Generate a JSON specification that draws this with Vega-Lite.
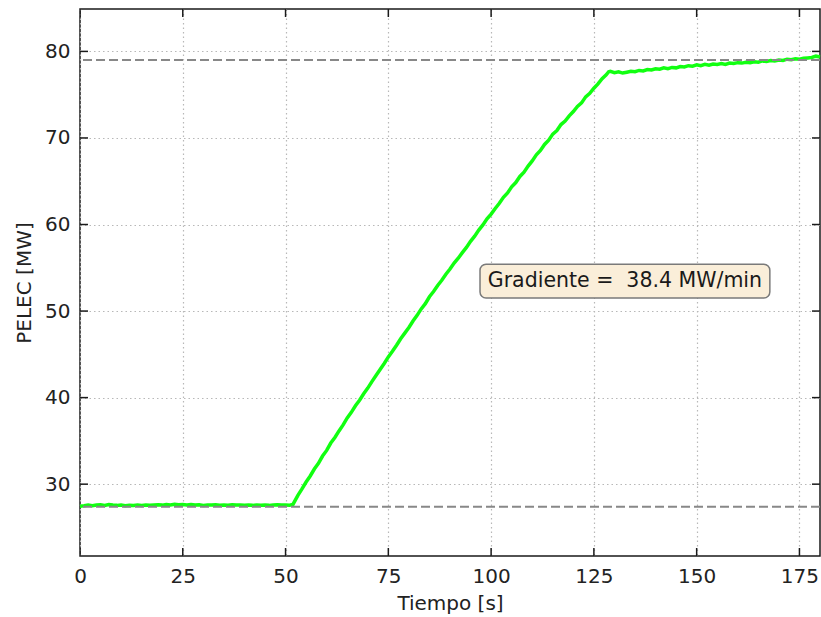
{
  "$schema": "https://vega.github.io/schema/vega-lite/v6.json",
  "width": 740,
  "height": 547,
  "autosize": {"type": "none"},
  "padding": {"left": 80, "top": 9, "right": 1, "bottom": 61},
  "background": "white",
  "config": {
    "font": "DejaVu Sans",
    "view": {"stroke": "#1a1a1a", "strokeWidth": 1.5},
    "axis": {
      "domain": false,
      "ticks": false,
      "labelFlush": false,
      "labelOverlap": false,
      "labelFont": "DejaVu Sans",
      "labelFontSize": 20,
      "labelColor": "#222",
      "titleFont": "DejaVu Sans",
      "titleFontSize": 20,
      "titleFontWeight": "normal",
      "titleColor": "#222",
      "gridColor": "#b8b8b8",
      "gridDash": [1.5, 3],
      "gridWidth": 1.2
    }
  },
  "datasets": {
    "pelec": [
      {"t": 0, "p": 27.45}, {"t": 1, "p": 27.5}, {"t": 2, "p": 27.58}, {"t": 3, "p": 27.52}, {"t": 4, "p": 27.6},
      {"t": 5, "p": 27.62}, {"t": 6, "p": 27.55}, {"t": 7, "p": 27.64}, {"t": 8, "p": 27.58}, {"t": 9, "p": 27.55},
      {"t": 10, "p": 27.6}, {"t": 11, "p": 27.52}, {"t": 12, "p": 27.57}, {"t": 13, "p": 27.54}, {"t": 14, "p": 27.6},
      {"t": 15, "p": 27.54}, {"t": 16, "p": 27.58}, {"t": 17, "p": 27.56}, {"t": 18, "p": 27.6}, {"t": 19, "p": 27.62},
      {"t": 20, "p": 27.58}, {"t": 21, "p": 27.65}, {"t": 22, "p": 27.6}, {"t": 23, "p": 27.68}, {"t": 24, "p": 27.62},
      {"t": 25, "p": 27.66}, {"t": 26, "p": 27.6}, {"t": 27, "p": 27.64}, {"t": 28, "p": 27.58}, {"t": 29, "p": 27.62},
      {"t": 30, "p": 27.55}, {"t": 31, "p": 27.6}, {"t": 32, "p": 27.58}, {"t": 33, "p": 27.63}, {"t": 34, "p": 27.57},
      {"t": 35, "p": 27.6}, {"t": 36, "p": 27.56}, {"t": 37, "p": 27.62}, {"t": 38, "p": 27.58}, {"t": 39, "p": 27.6},
      {"t": 40, "p": 27.56}, {"t": 41, "p": 27.59}, {"t": 42, "p": 27.55}, {"t": 43, "p": 27.6}, {"t": 44, "p": 27.57},
      {"t": 45, "p": 27.58}, {"t": 46, "p": 27.55}, {"t": 47, "p": 27.6}, {"t": 48, "p": 27.63}, {"t": 49, "p": 27.58},
      {"t": 50, "p": 27.6}, {"t": 51, "p": 27.56}, {"t": 51.8, "p": 27.66},
      {"t": 53, "p": 28.7}, {"t": 54, "p": 29.45}, {"t": 55, "p": 30.25}, {"t": 56, "p": 30.95}, {"t": 57, "p": 31.75},
      {"t": 58, "p": 32.4}, {"t": 59, "p": 33.25}, {"t": 60, "p": 33.9}, {"t": 61, "p": 34.75}, {"t": 62, "p": 35.4},
      {"t": 63, "p": 36.15}, {"t": 64, "p": 36.85}, {"t": 65, "p": 37.65}, {"t": 66, "p": 38.3}, {"t": 67, "p": 39.05},
      {"t": 68, "p": 39.7}, {"t": 69, "p": 40.45}, {"t": 70, "p": 41.1}, {"t": 71, "p": 41.85}, {"t": 72, "p": 42.55},
      {"t": 73, "p": 43.25}, {"t": 74, "p": 43.95}, {"t": 75, "p": 44.7}, {"t": 76, "p": 45.35}, {"t": 77, "p": 46.05},
      {"t": 78, "p": 46.8}, {"t": 79, "p": 47.45}, {"t": 80, "p": 48.1}, {"t": 81, "p": 48.85}, {"t": 82, "p": 49.5},
      {"t": 83, "p": 50.25}, {"t": 84, "p": 50.85}, {"t": 85, "p": 51.65}, {"t": 86, "p": 52.25}, {"t": 87, "p": 52.95},
      {"t": 88, "p": 53.55}, {"t": 89, "p": 54.25}, {"t": 90, "p": 54.85}, {"t": 91, "p": 55.55}, {"t": 92, "p": 56.1},
      {"t": 93, "p": 56.75}, {"t": 94, "p": 57.35}, {"t": 95, "p": 58.05}, {"t": 96, "p": 58.65}, {"t": 97, "p": 59.35},
      {"t": 98, "p": 59.95}, {"t": 99, "p": 60.65}, {"t": 100, "p": 61.2}, {"t": 101, "p": 61.85}, {"t": 102, "p": 62.45},
      {"t": 103, "p": 63.15}, {"t": 104, "p": 63.65}, {"t": 105, "p": 64.35}, {"t": 106, "p": 64.85}, {"t": 107, "p": 65.55},
      {"t": 108, "p": 66.05}, {"t": 109, "p": 66.75}, {"t": 110, "p": 67.35}, {"t": 111, "p": 68.05}, {"t": 112, "p": 68.55},
      {"t": 113, "p": 69.25}, {"t": 114, "p": 69.75}, {"t": 115, "p": 70.45}, {"t": 116, "p": 70.85}, {"t": 117, "p": 71.55},
      {"t": 118, "p": 71.95}, {"t": 119, "p": 72.55}, {"t": 120, "p": 73.05}, {"t": 121, "p": 73.65}, {"t": 122, "p": 74.05},
      {"t": 123, "p": 74.75}, {"t": 124, "p": 75.15}, {"t": 125, "p": 75.75}, {"t": 126, "p": 76.25}, {"t": 127, "p": 76.85},
      {"t": 128, "p": 77.3}, {"t": 128.6, "p": 77.65},
      {"t": 129, "p": 77.7}, {"t": 130, "p": 77.55}, {"t": 131, "p": 77.65}, {"t": 132, "p": 77.5}, {"t": 133, "p": 77.6},
      {"t": 134, "p": 77.7}, {"t": 135, "p": 77.65}, {"t": 136, "p": 77.8}, {"t": 137, "p": 77.75}, {"t": 138, "p": 77.9},
      {"t": 139, "p": 77.85}, {"t": 140, "p": 78.0}, {"t": 141, "p": 77.95}, {"t": 142, "p": 78.1}, {"t": 143, "p": 78.0},
      {"t": 144, "p": 78.15}, {"t": 145, "p": 78.1}, {"t": 146, "p": 78.25}, {"t": 147, "p": 78.2}, {"t": 148, "p": 78.35},
      {"t": 149, "p": 78.3}, {"t": 150, "p": 78.45}, {"t": 151, "p": 78.35}, {"t": 152, "p": 78.5}, {"t": 153, "p": 78.4},
      {"t": 154, "p": 78.55}, {"t": 155, "p": 78.5}, {"t": 156, "p": 78.6}, {"t": 157, "p": 78.5}, {"t": 158, "p": 78.65},
      {"t": 159, "p": 78.6}, {"t": 160, "p": 78.7}, {"t": 161, "p": 78.65}, {"t": 162, "p": 78.75}, {"t": 163, "p": 78.7},
      {"t": 164, "p": 78.8}, {"t": 165, "p": 78.75}, {"t": 166, "p": 78.9}, {"t": 167, "p": 78.85}, {"t": 168, "p": 78.95},
      {"t": 169, "p": 78.9}, {"t": 170, "p": 79.0}, {"t": 171, "p": 78.95}, {"t": 172, "p": 79.1}, {"t": 173, "p": 79.05},
      {"t": 174, "p": 79.15}, {"t": 175, "p": 79.1}, {"t": 176, "p": 79.2}, {"t": 177, "p": 79.25}, {"t": 178, "p": 79.3},
      {"t": 179, "p": 79.45}, {"t": 180, "p": 79.35}
    ],
    "refs": [{"level": 27.4}, {"level": 79.0}],
    "xticks": [{"v": 0}, {"v": 25}, {"v": 50}, {"v": 75}, {"v": 100}, {"v": 125}, {"v": 150}, {"v": 175}],
    "yticks": [{"v": 30}, {"v": 40}, {"v": 50}, {"v": 60}, {"v": 70}, {"v": 80}],
    "box": [{"x1": 97.3, "x2": 167.8, "y1": 51.5, "y2": 55.4, "xc": 132.55, "yc": 53.45, "label": "Gradiente = \u00a038.4 MW/min"}]
  },
  "layer": [
    {
      "data": {"name": "pelec"},
      "mark": {"type": "line", "color": "#11ff11", "strokeWidth": 3.5},
      "encoding": {
        "x": {
          "field": "t", "type": "quantitative",
          "scale": {"domain": [0, 180], "nice": false, "zero": false},
          "axis": {"orient": "bottom", "values": [0, 25, 50, 75, 100, 125, 150, 175], "title": "Tiempo [s]", "labelPadding": 10, "titlePadding": 7, "grid": true}
        },
        "y": {
          "field": "p", "type": "quantitative",
          "scale": {"domain": [21.7, 84.9], "nice": false, "zero": false},
          "axis": {"orient": "left", "values": [30, 40, 50, 60, 70, 80], "title": "PELEC [MW]", "labelPadding": 10, "titlePadding": 10, "grid": true}
        }
      }
    },
    {
      "data": {"name": "refs"},
      "mark": {"type": "rule", "color": "#888888", "strokeWidth": 2, "strokeDash": [9, 4]},
      "encoding": {
        "y": {"field": "level", "type": "quantitative"}
      }
    },
    {
      "data": {"name": "xticks"},
      "mark": {"type": "tick", "orient": "vertical", "size": 16, "thickness": 1.5, "color": "#1a1a1a", "opacity": 1, "clip": true},
      "encoding": {
        "x": {"field": "v", "type": "quantitative"},
        "y": {"datum": 21.7, "type": "quantitative"}
      }
    },
    {
      "data": {"name": "xticks"},
      "mark": {"type": "tick", "orient": "vertical", "size": 16, "thickness": 1.5, "color": "#1a1a1a", "opacity": 1, "clip": true},
      "encoding": {
        "x": {"field": "v", "type": "quantitative"},
        "y": {"datum": 84.9, "type": "quantitative"}
      }
    },
    {
      "data": {"name": "yticks"},
      "mark": {"type": "tick", "orient": "horizontal", "size": 16, "thickness": 1.5, "color": "#1a1a1a", "opacity": 1, "clip": true},
      "encoding": {
        "y": {"field": "v", "type": "quantitative"},
        "x": {"datum": 0, "type": "quantitative"}
      }
    },
    {
      "data": {"name": "yticks"},
      "mark": {"type": "tick", "orient": "horizontal", "size": 16, "thickness": 1.5, "color": "#1a1a1a", "opacity": 1, "clip": true},
      "encoding": {
        "y": {"field": "v", "type": "quantitative"},
        "x": {"datum": 180, "type": "quantitative"}
      }
    },
    {
      "data": {"name": "box"},
      "mark": {"type": "rect", "fill": "#faeed9", "stroke": "#7a7a7a", "strokeWidth": 1.5, "cornerRadius": 6},
      "encoding": {
        "x": {"field": "x1", "type": "quantitative"},
        "x2": {"field": "x2"},
        "y": {"field": "y1", "type": "quantitative"},
        "y2": {"field": "y2"}
      }
    },
    {
      "data": {"name": "box"},
      "mark": {"type": "text", "font": "DejaVu Sans", "fontSize": 20.5, "color": "#1a1a1a", "align": "center", "baseline": "middle"},
      "encoding": {
        "x": {"field": "xc", "type": "quantitative"},
        "y": {"field": "yc", "type": "quantitative"},
        "text": {"field": "label"}
      }
    }
  ]
}
